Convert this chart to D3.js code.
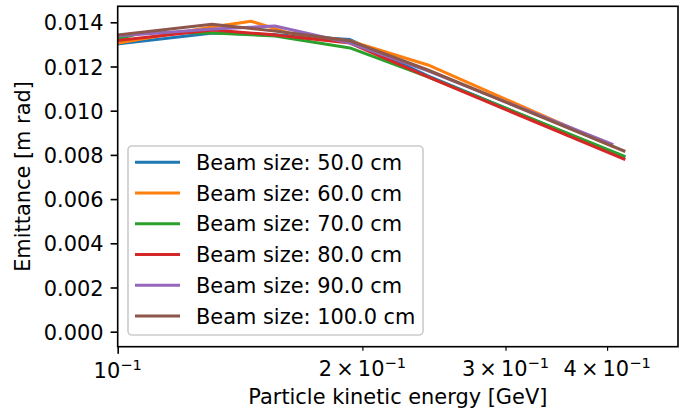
<!DOCTYPE html>
<html>
<head>
<meta charset="utf-8">
<script src="https://cdn.jsdelivr.net/npm/d3@7"></script>
<style>
  body { margin: 0; background: #fff; }
  svg text { font-family: "DejaVu Sans", sans-serif; fill: #000; }
</style>
</head>
<body>
<div id="d3-container"></div>
<script>
/**
 * CONSTANTS AND GLOBALS
 * */
const width = 679,
  height = 411,
  frame = { left: 117.7, right: 678, top: 6.3, bottom: 346.7 },
  fontSize = 20.9;

// beam sizes and colours (matplotlib tab10)
const beamSizes = [50, 60, 70, 80, 90, 100];
const colors = ["#1f77b4", "#ff7f0e", "#2ca02c", "#d62728", "#9467bd", "#8c564b"];

// kinetic energy [GeV] and emittance [m rad]
const energy50 = [0.1, 0.1310, 0.1561, 0.1931, 0.2408, 0.4195];
const emit50 = [0.01302, 0.01352, 0.01343, 0.01322, 0.01157, 0.00790];

const energy60 = [0.1, 0.1306, 0.1459, 0.1624, 0.1931, 0.2408, 0.4055];
const emit60 = [0.01306, 0.01379, 0.01405, 0.01352, 0.01315, 0.01207, 0.00840];

const energy70 = [0.1, 0.1074, 0.1310, 0.1561, 0.1931, 0.2408, 0.4195];
const emit70 = [0.01324, 0.01354, 0.01352, 0.01338, 0.01284, 0.01153, 0.00795];

const energy80 = [0.1, 0.1310, 0.1561, 0.1931, 0.2408, 0.4195];
const emit80 = [0.01318, 0.01365, 0.01343, 0.01306, 0.01153, 0.00781];

const energy90 = [0.1, 0.1310, 0.1561, 0.1931, 0.2408, 0.4055];
const emit90 = [0.01338, 0.01370, 0.01383, 0.01306, 0.01180, 0.00849];

const energy100 = [0.1, 0.1306, 0.1561, 0.1931, 0.2408, 0.4195];
const emit100 = [0.01343, 0.01391, 0.01361, 0.01316, 0.01184, 0.00818];

const energies = [energy50, energy60, energy70, energy80, energy90, energy100];
const emits = [emit50, emit60, emit70, emit80, emit90, emit100];

// ticks
const yTicks = [0, 0.002, 0.004, 0.006, 0.008, 0.010, 0.012, 0.014];
const xMajorTicks = [0.1];
const xMinorTicks = [0.2, 0.3, 0.4];
const xTickMantissa = ["", "2", "3", "4"];

const series = beamSizes.map((b, i) => ({
  label: `Beam size: ${b.toFixed(1)} cm`,
  color: colors[i],
  points: energies[i].map((e, j) => [e, emits[i][j]])
}));

const svg = d3.select("#d3-container")
  .append("svg")
  .attr("width", width)
  .attr("height", height);

// scales
const x = d3.scaleLog()
  .domain([0.1, 0.489])
  .range([frame.left, frame.right]);

const y = d3.scaleLinear()
  .domain([-0.000679, 0.014724])
  .range([frame.bottom, frame.top]);

// clip to axes area
svg.append("clipPath").attr("id", "clip")
  .append("rect")
  .attr("x", frame.left).attr("y", frame.top)
  .attr("width", frame.right - frame.left)
  .attr("height", frame.bottom - frame.top);

// lines
const line = d3.line()
  .x(d => x(d[0]))
  .y(d => y(d[1]));

svg.append("g")
  .attr("clip-path", "url(#clip)")
  .selectAll("path")
  .data(series)
  .join("path")
  .attr("fill", "none")
  .attr("stroke", d => d.color)
  .attr("stroke-width", 3.06)
  .attr("stroke-linejoin", "round")
  .attr("stroke-linecap", "square")
  .attr("d", d => line(d.points));

// y axis
const yAxis = svg.append("g")
  .attr("transform", `translate(${frame.left},0)`)
  .call(d3.axisLeft(y).tickValues(yTicks).tickFormat(d3.format(".3f")).tickSize(7.1).tickPadding(7));
yAxis.select(".domain").remove();
yAxis.selectAll(".tick line").attr("stroke", "#000").attr("stroke-width", 1.63);
yAxis.selectAll(".tick text")
  .attr("font-size", fontSize)
  .attr("dy", "0.36em");

// x axis: major
const xAxis = svg.append("g")
  .attr("transform", `translate(0,${frame.bottom})`)
  .call(d3.axisBottom(x).tickValues(xMajorTicks).tickFormat("").tickSize(7.1));
xAxis.select(".domain").remove();
xAxis.selectAll(".tick line").attr("stroke", "#000").attr("stroke-width", 1.63);

// x axis: minor
const xMinor = svg.append("g")
  .attr("transform", `translate(0,${frame.bottom})`)
  .call(d3.axisBottom(x).tickValues(xMinorTicks).tickFormat("").tickSize(4.1));
xMinor.select(".domain").remove();
xMinor.selectAll(".tick line").attr("stroke", "#000").attr("stroke-width", 1.2);

// x tick labels in mathtext style
const xLabelVals = xMajorTicks.concat(xMinorTicks);
const xLabels = svg.append("g")
  .selectAll("text")
  .data(xLabelVals)
  .join("text")
  .attr("x", d => x(d))
  .attr("y", (d, i) => i === 0 ? 378 : 376)
  .attr("text-anchor", "middle")
  .attr("font-size", fontSize);
xLabels.each(function (d, i) {
  const t = d3.select(this);
  const m = xTickMantissa[i];
  t.append("tspan").text(m ? `${m}\u2009\u00d7\u200910` : "10");
  t.append("tspan").attr("dy", -8).attr("font-size", fontSize * 0.7).text("\u22121");
});

// spines
svg.append("rect")
  .attr("x", frame.left).attr("y", frame.top)
  .attr("width", frame.right - frame.left)
  .attr("height", frame.bottom - frame.top)
  .attr("fill", "none")
  .attr("stroke", "#000")
  .attr("stroke-width", 1.63);

// axis titles
svg.append("text")
  .attr("x", (frame.left + frame.right) / 2)
  .attr("y", 404)
  .attr("text-anchor", "middle")
  .attr("font-size", fontSize)
  .text("Particle kinetic energy [GeV]");

svg.append("text")
  .attr("transform", `translate(30,${(frame.top + frame.bottom) / 2}) rotate(-90)`)
  .attr("text-anchor", "middle")
  .attr("font-size", fontSize)
  .text("Emittance [m rad]");

// legend
const legend = svg.append("g");
legend.append("rect")
  .attr("x", 128).attr("y", 146)
  .attr("width", 295).attr("height", 189)
  .attr("rx", 4).attr("ry", 4)
  .attr("fill", "#fff").attr("fill-opacity", 0.8)
  .attr("stroke", "#cccccc").attr("stroke-width", 1.63);

const rowY = d3.scaleLinear().domain([0, 5]).range([162.3, 316]);
const item = legend.selectAll("g.item")
  .data(series)
  .join("g")
  .attr("class", "item")
  .attr("transform", (d, i) => `translate(0,${rowY(i)})`);
item.append("line")
  .attr("x1", 135).attr("x2", 180)
  .attr("y1", 0).attr("y2", 0)
  .attr("stroke", d => d.color)
  .attr("stroke-width", 3.06);
item.append("text")
  .attr("x", 196)
  .attr("dy", "0.36em")
  .attr("font-size", fontSize)
  .text(d => d.label);
</script>
</body>
</html>
